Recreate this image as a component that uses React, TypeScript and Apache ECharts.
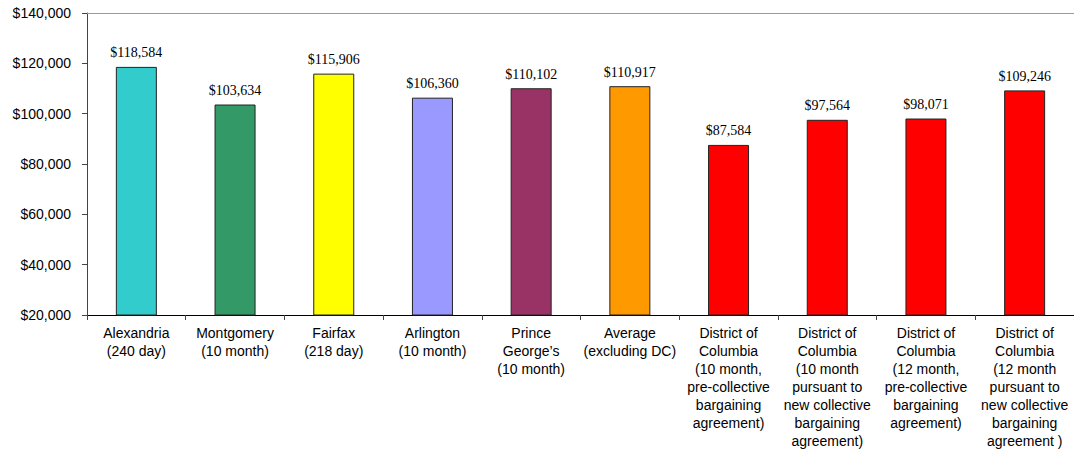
import React, { useEffect, useRef } from "react";
import * as echarts from "echarts";

const categories = [
  "Alexandria\n(240 day)",
  "Montgomery\n(10 month)",
  "Fairfax\n(218 day)",
  "Arlington\n(10 month)",
  "Prince\nGeorge’s\n(10 month)",
  "Average\n(excluding DC)",
  "District of\nColumbia\n(10 month,\npre-collective\nbargaining\nagreement)",
  "District of\nColumbia\n(10 month\npursuant to\nnew collective\nbargaining\nagreement)",
  "District of\nColumbia\n(12 month,\npre-collective\nbargaining\nagreement)",
  "District of\nColumbia\n(12 month\npursuant to\nnew collective\nbargaining\nagreement )",
];
const values = [118584, 103634, 115906, 106360, 110102, 110917, 87584, 97564, 98071, 109246];
const colors = ["#33CCCC", "#339966", "#FFFF00", "#9999FF", "#993366", "#FF9900", "#FF0000", "#FF0000", "#FF0000", "#FF0000"];
const yMin = 20000;
const yMax = 140000;
const yStep = 20000;

const fmt = (v: number) => "$" + v.toLocaleString("en-US");

export default function App() {
  const ref = useRef<HTMLDivElement>(null);
  useEffect(() => {
    const chart = echarts.init(ref.current!, null, { renderer: "svg" });
    chart.setOption({
      animation: false,
      grid: { left: 87, right: -3, top: 13, bottom: 131 },
      xAxis: {
        type: "category",
        data: categories,
        axisLine: { lineStyle: { color: "#000", width: 1 } },
        axisTick: { show: true, length: 5, inside: false, lineStyle: { color: "#444" } },
        axisLabel: {
          interval: 0,
          margin: 9,
          color: "#000",
          fontFamily: "Liberation Sans, Arial",
          fontSize: 14,
          lineHeight: 18,
          align: "center",
        },
      },
      yAxis: {
        type: "value",
        min: yMin,
        max: yMax,
        interval: yStep,
        axisLine: { show: true, lineStyle: { color: "#444", width: 1 } },
        axisTick: { show: true, length: 5, lineStyle: { color: "#444" } },
        splitLine: { show: false },
        axisLabel: {
          margin: 16,
          color: "#000",
          fontFamily: "Liberation Sans, Arial",
          fontSize: 14,
          formatter: (v: number) => fmt(v),
        },
      },
      series: [
        {
          type: "bar",
          barWidth: 41,
          data: values.map((v, i) => ({
            value: v,
            itemStyle: { color: colors[i], borderColor: "#222", borderWidth: 1 },
          })),
          label: {
            show: true,
            position: "top",
            distance: 7,
            color: "#000",
            fontFamily: "Liberation Serif, Times New Roman",
            fontSize: 14,
            formatter: (p: any) => fmt(p.value),
          },
          markLine: {
            silent: true,
            symbol: "none",
            label: { show: false },
            lineStyle: { color: "#999", type: "solid", width: 1 },
            data: [{ yAxis: yMax }],
          },
        },
      ],
    });
    return () => chart.dispose();
  }, []);
  return <div ref={ref} style={{ width: 1074, height: 450, position: "absolute", left: 0, top: 0 }} />;
}
